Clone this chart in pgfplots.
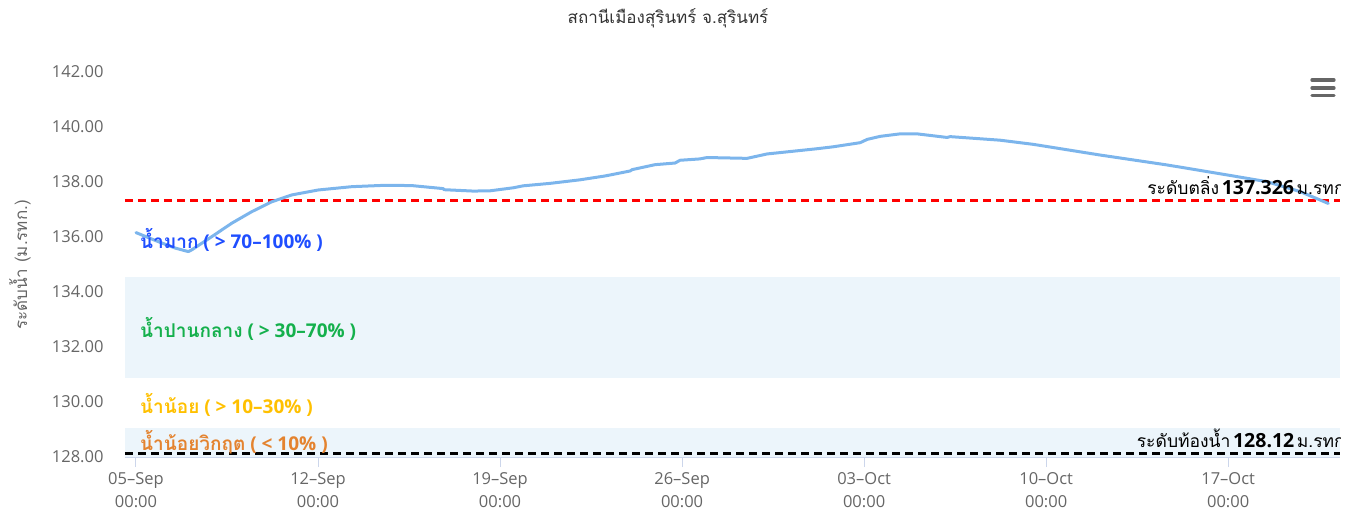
\documentclass[border=0pt]{standalone}
\usepackage{fontspec}
\usepackage{pgfplots}
\pgfplotsset{compat=1.18}
\setmainfont{Open Sans}
\newfontfamily\thaifont[Script=Thai]{Loma}
\definecolor{linecol}{HTML}{7CB5EC}
\definecolor{band}{HTML}{ECF5FB}
\definecolor{tickgray}{HTML}{666666}
\definecolor{axisline}{HTML}{CCD6EB}
\definecolor{lblue}{HTML}{1F4EFF}
\definecolor{lgreen}{HTML}{14B04C}
\definecolor{lyellow}{HTML}{FFC000}
\definecolor{lorange}{HTML}{E4832F}
\definecolor{titlecol}{HTML}{333333}
\pgfplotstableread{
day value
0.00 136.16
0.86 135.83
1.50 135.60
2.01 135.47
2.14 135.53
2.91 136.01
3.68 136.50
4.45 136.92
5.22 137.28
5.99 137.53
7.01 137.71
8.30 137.83
9.58 137.88
10.60 137.87
11.81 137.76
11.85 137.72
12.97 137.67
13.62 137.68
14.51 137.79
14.88 137.86
15.92 137.95
17.08 138.08
18.04 138.22
19.00 138.40
19.08 138.45
19.96 138.63
20.73 138.69
20.92 138.79
21.69 138.84
21.96 138.89
23.50 138.86
24.27 139.02
26.19 139.21
26.81 139.28
27.85 139.43
28.12 139.55
28.62 139.66
29.38 139.75
30.04 139.75
31.19 139.62
31.31 139.65
33.23 139.52
34.50 139.37
37.08 138.98
39.65 138.62
42.19 138.22
43.50 138.01
44.77 137.65
45.85 137.22
}\leveltable
\begin{document}
\begin{tikzpicture}
\useasboundingbox (-125pt,-63pt) rectangle (1231pt,457pt);
\begin{axis}[
  scale only axis, width=1215pt, height=385pt,
  xmin=-0.423, xmax=46.3, ymin=128, ymax=142,
  axis x line*=bottom, axis y line*=left,
  x axis line style={draw=axisline, line width=1pt, -},
  y axis line style={draw=none},
  tick align=outside,
  major tick length=10pt,
  xtick={0,7,14,21,28,35,42},
  xticklabels={{05--Sep\\00:00},{12--Sep\\00:00},{19--Sep\\00:00},{26--Sep\\00:00},{03--Oct\\00:00},{10--Oct\\00:00},{17--Oct\\00:00}},
  xtick style={draw=axisline, line width=1pt},
  xticklabel style={align=center, font=\fontsize{16.5}{23}\selectfont, text=tickgray, yshift=-2pt},
  ytick={128,130,132,134,136,138,140,142},
  ytick style={draw=none},
  yticklabel style={font=\fontsize{16.5}{18}\selectfont, text=tickgray, xshift=-8pt},
  /pgf/number format/.cd, fixed, fixed zerofill, precision=2, assume math mode=true,
]
\fill[band] (axis cs:-0.423,130.88) rectangle (axis cs:46.3,134.53);
\fill[band] (axis cs:-0.423,128) rectangle (axis cs:46.3,129.04);
\addplot[red, line width=2.5pt, dash pattern=on 8pt off 5pt] coordinates {(-0.423,137.326) (46.3,137.326)};
\addplot[black, line width=2.5pt, dash pattern=on 8pt off 5pt] coordinates {(-0.423,128.12) (46.3,128.12)};
\addplot[linecol, line width=3pt, line join=round, line cap=round] table[x=day, y=value] {\leveltable};
\node[anchor=base west, inner sep=0pt, text=lblue, font=\fontsize{19}{21}\selectfont\bfseries] at (axis cs:0.154,135.59) {{\thaifont น้ำมาก} ( > 70–100\% )};
\node[anchor=base west, inner sep=0pt, text=lgreen, font=\fontsize{19}{21}\selectfont\bfseries] at (axis cs:0.154,132.34) {{\thaifont น้ำปานกลาง} ( > 30–70\% )};
\node[anchor=base west, inner sep=0pt, text=lyellow, font=\fontsize{19}{21}\selectfont\bfseries] at (axis cs:0.154,129.59) {{\thaifont น้ำน้อย} ( > 10–30\% )};
\node[anchor=base west, inner sep=0pt, text=lorange, font=\fontsize{19}{21}\selectfont\bfseries] at (axis cs:0.154,128.23) {{\thaifont น้ำน้อยวิกฤต} ( < 10\% )};
\node[anchor=base west, yshift=6pt, inner sep=0pt] at (axis cs:38.88,137.326) {{\thaifont\fontsize{17.5}{19}\selectfont ระดับตลิ่ง} {\fontsize{19.5}{21}\selectfont\bfseries 137.326} {\thaifont\fontsize{17.5}{19}\selectfont ม.รทก}};
\node[anchor=base west, yshift=6pt, inner sep=0pt] at (axis cs:38.48,128.12) {{\thaifont\fontsize{17.5}{19}\selectfont ระดับท้องน้ำ} {\fontsize{19.5}{21}\selectfont\bfseries 128.12} {\thaifont\fontsize{17.5}{19}\selectfont ม.รทก}};
\end{axis}
\node[text=titlecol, font=\thaifont\fontsize{17}{19}\selectfont] at (543pt,439pt) {สถานีเมืองสุรินทร์ จ.สุรินทร์};
\node[rotate=90, text=tickgray, font=\thaifont\fontsize{17}{19}\selectfont] at (-105pt,192pt) {ระดับน้ำ (ม.รทก.)};
\foreach \yy in {377,369,361.3} {
  \draw[tickgray, line width=3.3pt, line cap=round] (1187pt,\yy pt) -- (1209pt,\yy pt);
}
\end{tikzpicture}
\end{document}
